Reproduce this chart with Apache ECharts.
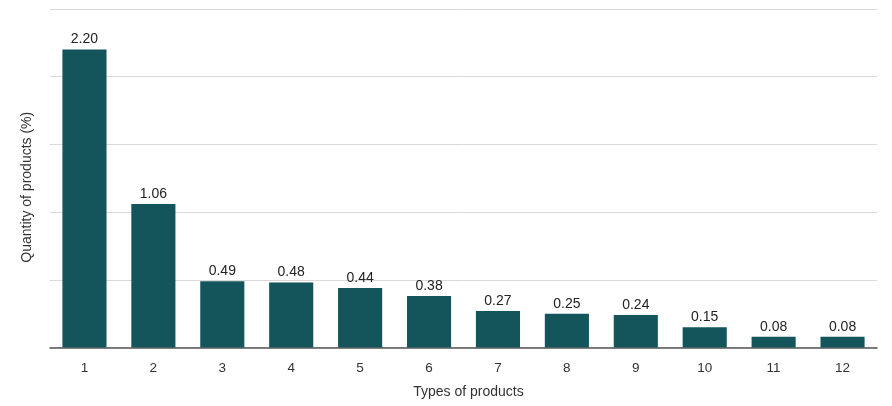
<!DOCTYPE html>
<html>
<head>
    <meta charset="utf-8">
    <title>Types of products</title>
    <script src="https://cdn.jsdelivr.net/npm/echarts@6/dist/echarts.min.js"></script>
</head>
<style>
    *{
        margin: 0;
        padding: 0;
    }
    #chart{
        width: 892px;
        height: 406px;
    }
</style>
<body>
<div id="chart"></div>
<script>
    // data
    let categories = ['1','2','3','4','5','6','7','8','9','10','11','12'];
    let values = [2.20, 1.06, 0.49, 0.48, 0.44, 0.38, 0.27, 0.25, 0.24, 0.15, 0.08, 0.08];

    let chart = echarts.init(document.getElementById('chart'));
    let font = '"Liberation Sans", Arial, sans-serif';
    let option = {
        backgroundColor: '#fff',
        textStyle: {fontFamily: font},
        grid: {
            left: 50,
            right: 15,
            top: 9,
            bottom: 58.5
        },
        xAxis: {
            type: 'category',
            data: categories,
            name: 'Types of products',
            nameLocation: 'middle',
            nameGap: 38,
            nameTextStyle: {color: '#333', fontSize: 14, fontFamily: font, padding: [0, 0, 0, 10]},
            axisLine: {lineStyle: {color: '#555', width: 1.5}},
            axisTick: {show: false},
            axisLabel: {color: '#333', fontSize: 13.5, margin: 14, fontFamily: font}
        },
        yAxis: {
            type: 'value',
            min: 0,
            max: 2.5,
            interval: 0.5,
            name: 'Quantity of products (%)',
            nameLocation: 'middle',
            nameGap: 16,
            nameTextStyle: {color: '#333', fontSize: 14, fontFamily: font, padding: [0, 0, 0, -18]},
            axisLine: {show: false},
            axisTick: {show: false},
            axisLabel: {show: false},
            splitLine: {lineStyle: {color: '#d9d9d9', width: 1}}
        },
        series: [{
            type: 'bar',
            data: values,
            barWidth: '64%',
            itemStyle: {color: '#13555a'},
            label: {
                show: true,
                position: 'top',
                distance: 3,
                color: '#222',
                fontSize: 14,
                fontFamily: font,
                formatter: p => p.value.toFixed(2)
            }
        }]
    };
    chart.setOption(option);
</script>
</body>
</html>
